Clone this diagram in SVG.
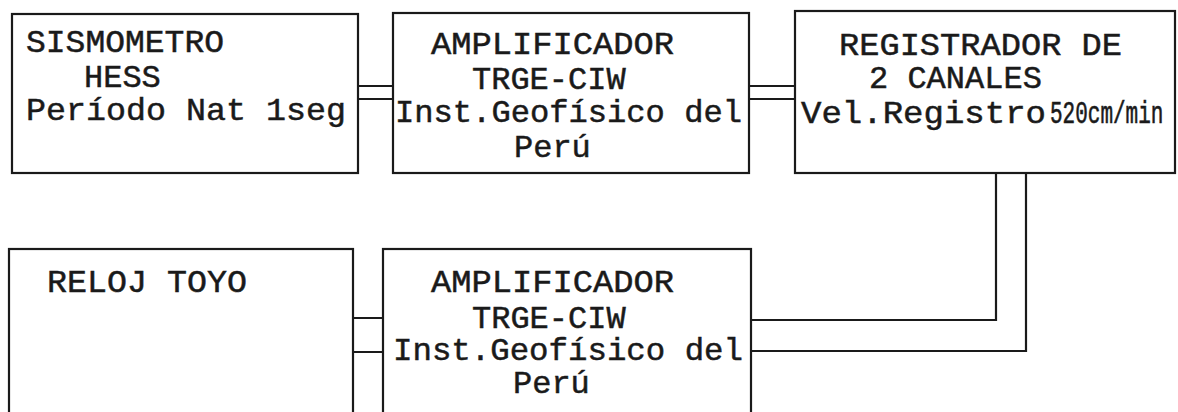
<svg xmlns="http://www.w3.org/2000/svg" width="1178" height="412" viewBox="0 0 1178 412">
<style>
.box{fill:none;stroke:#1a1a1a;stroke-width:2.2}
.wire{fill:none;stroke:#1a1a1a;stroke-width:2.2}
.t{font-family:"Liberation Mono","Courier New",monospace;font-size:32px;fill:#1a1a1a;stroke:#1a1a1a;stroke-width:0.5}
.s{font-family:"Liberation Mono","Courier New",monospace;font-size:21px;fill:#1a1a1a;stroke:#1a1a1a;stroke-width:0.4}
</style>
<rect width="1178" height="412" fill="#ffffff"/>
<g id="sismometro">
<rect class="box" x="12" y="14" width="346" height="159"/>
<text class="t" x="26" y="52" textLength="198" lengthAdjust="spacingAndGlyphs">SISMOMETRO</text>
<text class="t" x="84" y="87">HESS</text>
<text class="t" x="26" y="120" textLength="320" lengthAdjust="spacingAndGlyphs">Período Nat 1seg</text>
</g>
<g id="amplificador1">
<rect class="box" x="393" y="13" width="356" height="160"/>
<text class="t" x="431" y="54" textLength="243" lengthAdjust="spacingAndGlyphs">AMPLIFICADOR</text>
<text class="t" x="472" y="89">TRGE-CIW</text>
<text class="t" x="395" y="122" textLength="347" lengthAdjust="spacingAndGlyphs">Inst.Geofísico del</text>
<text class="t" x="514" y="157">Perú</text>
</g>
<g id="registrador">
<rect class="box" x="795" y="11" width="380" height="162"/>
<text class="t" x="839" y="55" textLength="283" lengthAdjust="spacingAndGlyphs">REGISTRADOR DE</text>
<text class="t" x="869" y="88">2 CANALES</text>
<text class="t" x="801" y="123" textLength="245" lengthAdjust="spacingAndGlyphs">Vel.Registro</text>
<text class="s" transform="translate(1050,123) scale(1,1.45)" x="0" y="0">520cm/min</text>
</g>
<g id="reloj">
<rect class="box" x="9" y="249" width="344" height="180"/>
<text class="t" x="47" y="292" textLength="200" lengthAdjust="spacingAndGlyphs">RELOJ TOYO</text>
</g>
<g id="amplificador2">
<rect class="box" x="383" y="249" width="368" height="180"/>
<text class="t" x="431" y="292" textLength="243" lengthAdjust="spacingAndGlyphs">AMPLIFICADOR</text>
<text class="t" x="472" y="328">TRGE-CIW</text>
<text class="t" x="393" y="360" textLength="350" lengthAdjust="spacingAndGlyphs">Inst.Geofísico del</text>
<text class="t" x="513" y="393">Perú</text>
</g>
<g id="connectors">
<path class="wire" d="M358,86 H393 M358,99 H393"/>
<path class="wire" d="M749,86 H795 M749,99 H795"/>
<path class="wire" d="M353,318 H383 M353,352 H383"/>
<path class="wire" d="M751,320 H996 V173"/>
<path class="wire" d="M751,351 H1026 V173"/>
</g>
</svg>
